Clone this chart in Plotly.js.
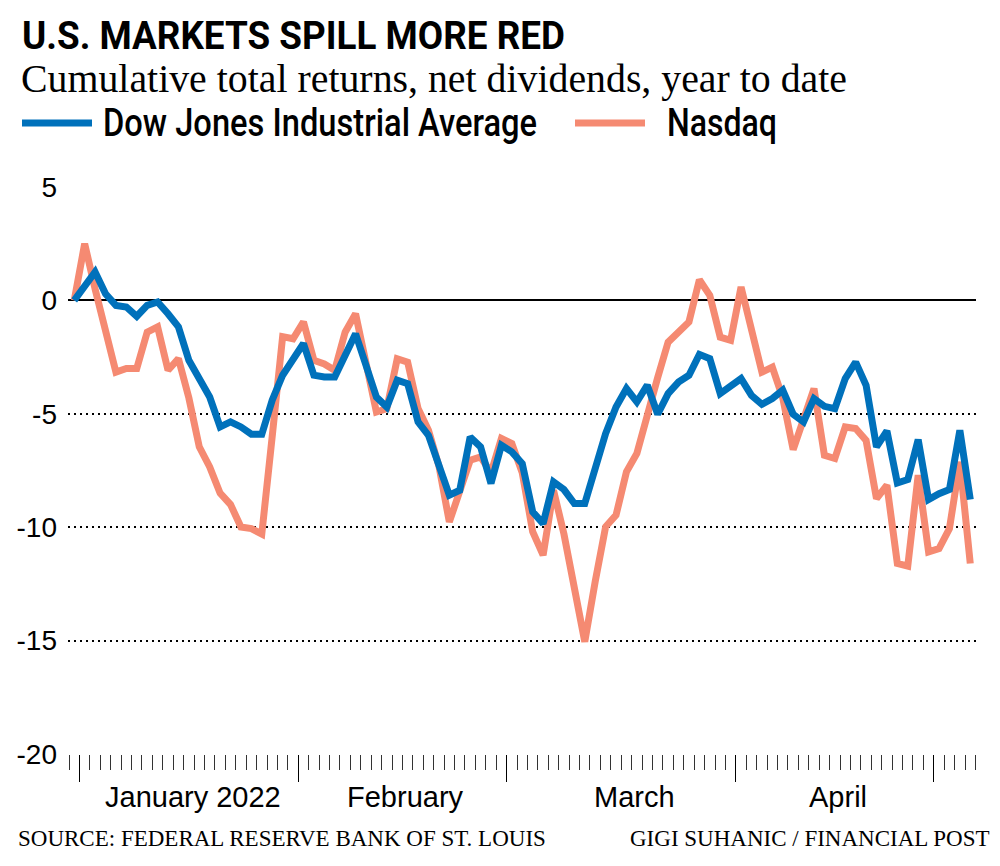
<!DOCTYPE html>
<html><head><meta charset="utf-8">
<script src="https://cdn.plot.ly/plotly-3.0.1.min.js"></script>
<style>html,body{margin:0;padding:0;background:#fff}</style>
</head><body><div id="chart" style="width:1000px;height:866px"></div>
<script>
// Cumulative total returns (%), one value per trading session, year to date
const dow = [0, 0.6, 1.25, 0.29, -0.22, -0.29, -0.7, -0.22, -0.07, -0.59,
  -1.17, -2.64, -3.45, -4.26, -5.58, -5.36, -5.58, -5.9, -5.9, -4.4,
  -3.3, -2.57, -1.9, -3.3, -3.38, -3.38, -2.42, -1.47, -2.86, -4.26,
  -4.7, -3.52, -3.67, -5.36, -5.95, -7.27, -8.59, -8.37, -6.02, -6.46,
  -8.07, -6.39, -6.68, -7.2, -9.32, -9.84, -8.0, -8.34, -8.96, -8.96,
  -7.27, -5.87, -4.7, -3.89, -4.48, -3.74, -5.02, -4.11, -3.6, -3.3,
  -2.38, -2.57, -4.11, -3.74, -3.45, -4.19, -4.58, -4.33, -3.96, -5.02,
  -5.36, -4.33, -4.67, -4.77, -3.45, -2.72, -3.74, -6.46, -5.76, -8.05,
  -7.9, -6.14, -8.78, -8.52, -8.34, -5.73, -8.78];
const nasdaq = [0, 2.5, 0.5, -1.47, -3.16, -3.0, -3.0, -1.4, -1.17, -3.08,
  -2.57, -4.3, -6.46, -7.34, -8.5, -9.0, -9.99, -10.06, -10.3, -6.0,
  -1.6, -1.69, -0.95, -2.64, -2.8, -3.08, -1.4, -0.59, -2.9, -4.92,
  -4.77, -2.57, -2.72, -4.77, -5.73, -7.3, -9.77, -8.3, -7.05, -6.9,
  -7.6, -6.09, -6.31, -7.6, -10.2, -11.23, -8.37, -10.3, -12.6, -15.05,
  -12.4, -9.98, -9.47, -7.56, -6.75, -4.92, -3.4, -1.84, -1.4, -0.95,
  0.91, 0.22, -1.62, -1.76, 0.59, -1.4, -3.16, -2.94, -4.3, -6.58,
  -5.2, -3.89, -6.83, -6.97, -5.58, -5.65, -6.17, -8.74, -8.15, -11.6,
  -11.72, -7.71, -11.09, -10.94, -10.06, -7.12, -11.6];
const session = dow.map((_, i) => i);           // trading-session index
const monthLabels = ['January 2022', 'February', 'March', 'April'];
const monthBreaks = [0.5, 21.5, 41.5, 63.5, 82.5]; // session boundaries where months start
const monthLabelAt = [11.4, 31.8, 53.8, 73.3];
const yTicks = [5, 0, -5, -10, -15, -20];
const yTickText = ['5', '0', '-5', '-10', '-15', '-20'];
const seriesNames = ['Dow Jones Industrial Average', 'Nasdaq'];

const BLUE = '#0071bb', SALMON = '#f58a72';
const COND = 'Roboto, "DejaVu Sans Condensed", sans-serif';
const SANS = '"Liberation Sans", Arial, sans-serif';
const SERIF = '"Liberation Serif", "Times New Roman", serif';

const L = 68, R = 976, T = 187, B = 754;
const px = x => (x - L) / (R - L);
const py = y => (B - y) / (B - T);

const traces = [
  {x: session, y: nasdaq, name: seriesNames[1], type: 'scatter', mode: 'lines',
   line: {color: SALMON, width: 7}, hoverinfo: 'skip'},
  {x: session, y: dow, name: seriesNames[0], type: 'scatter', mode: 'lines',
   line: {color: BLUE, width: 7}, hoverinfo: 'skip'}
];

// fitWidth: condensed display width (px) for the narrow headline faces
const annotations = [
  {text: 'U.S. MARKETS SPILL MORE RED', xref: 'paper', yref: 'paper', x: px(20), y: py(36),
   xanchor: 'left', yanchor: 'middle', align: 'left', showarrow: false,
   font: {family: COND, size: 39, color: '#000', weight: 'bold'}},
  {text: 'Cumulative total returns, net dividends, year to date', xref: 'paper', yref: 'paper',
   x: px(19), y: py(79), xanchor: 'left', yanchor: 'middle', align: 'left', showarrow: false,
   font: {family: SERIF, size: 39, color: '#000'}},
  {text: seriesNames[0], xref: 'paper', yref: 'paper', x: px(101), y: py(123),
   xanchor: 'left', yanchor: 'middle', align: 'left', showarrow: false,
   font: {family: COND, size: 39, color: '#000', weight: 500}},
  {text: seriesNames[1], xref: 'paper', yref: 'paper', x: px(665), y: py(123),
   xanchor: 'left', yanchor: 'middle', align: 'left', showarrow: false,
   font: {family: COND, size: 39, color: '#000', weight: 500}},
  {text: 'SOURCE: FEDERAL RESERVE BANK OF ST. LOUIS', xref: 'paper', yref: 'paper',
   x: px(16), y: py(838), xanchor: 'left', yanchor: 'middle', showarrow: false,
   font: {family: SERIF, size: 23, color: '#000'}},
  {text: 'GIGI SUHANIC / FINANCIAL POST', xref: 'paper', yref: 'paper',
   x: px(992), y: py(838), xanchor: 'right', yanchor: 'middle', showarrow: false,
   font: {family: SERIF, size: 23, color: '#000'}}
];
const fitWidth = {0: 543, 1: 826, 2: 434, 3: 110};
monthLabels.forEach((t, i) => annotations.push({
  text: t, xref: 'x', yref: 'paper', x: monthLabelAt[i], y: py(797),
  xanchor: 'center', yanchor: 'middle', showarrow: false,
  font: {family: SANS, size: 29, color: '#000'}
}));

const shapes = [
  {type: 'line', xref: 'paper', yref: 'paper', x0: px(22), x1: px(92), y0: py(123), y1: py(123),
   line: {color: BLUE, width: 7}},
  {type: 'line', xref: 'paper', yref: 'paper', x0: px(575), x1: px(645), y0: py(123), y1: py(123),
   line: {color: SALMON, width: 7}}
];

const layout = {
  width: 1000, height: 866,
  margin: {l: L, r: 1000 - R, t: T, b: 866 - B, pad: 0},
  paper_bgcolor: '#fff', plot_bgcolor: '#fff',
  showlegend: false,
  xaxis: {
    range: [-0.6, 86.55], showgrid: false, zeroline: false, showline: false,
    tickmode: 'array', tickvals: monthBreaks, ticks: 'outside', ticklen: 27,
    tickwidth: 1, tickcolor: '#000', showticklabels: false,
    minor: {ticks: 'outside', tick0: -0.5, dtick: 1, ticklen: 15, tickwidth: 1,
            tickcolor: '#333', showgrid: false}
  },
  yaxis: {
    range: [-20, 5], tickmode: 'array', tickvals: yTicks, ticktext: yTickText,
    showgrid: true, gridcolor: '#000', gridwidth: 2, griddash: '2px,4px',
    zeroline: true, zerolinecolor: '#000', zerolinewidth: 2,
    showline: false, ticks: '', ticklabelstandoff: 10,
    tickfont: {family: SANS, size: 28, color: '#000'}
  },
  annotations: annotations,
  shapes: shapes
};

const gd = document.getElementById('chart');
Plotly.newPlot(gd, traces, layout, {displayModeBar: false, staticPlot: true}).then(() => {
  Object.keys(fitWidth).forEach(i => {
    const t = gd.querySelector('g.annotation[data-index="' + i + '"] text.annotation-text');
    if (t) {
      t.setAttribute('textLength', fitWidth[i]);
      t.setAttribute('lengthAdjust', 'spacingAndGlyphs');
    }
  });
});
</script></body></html>
